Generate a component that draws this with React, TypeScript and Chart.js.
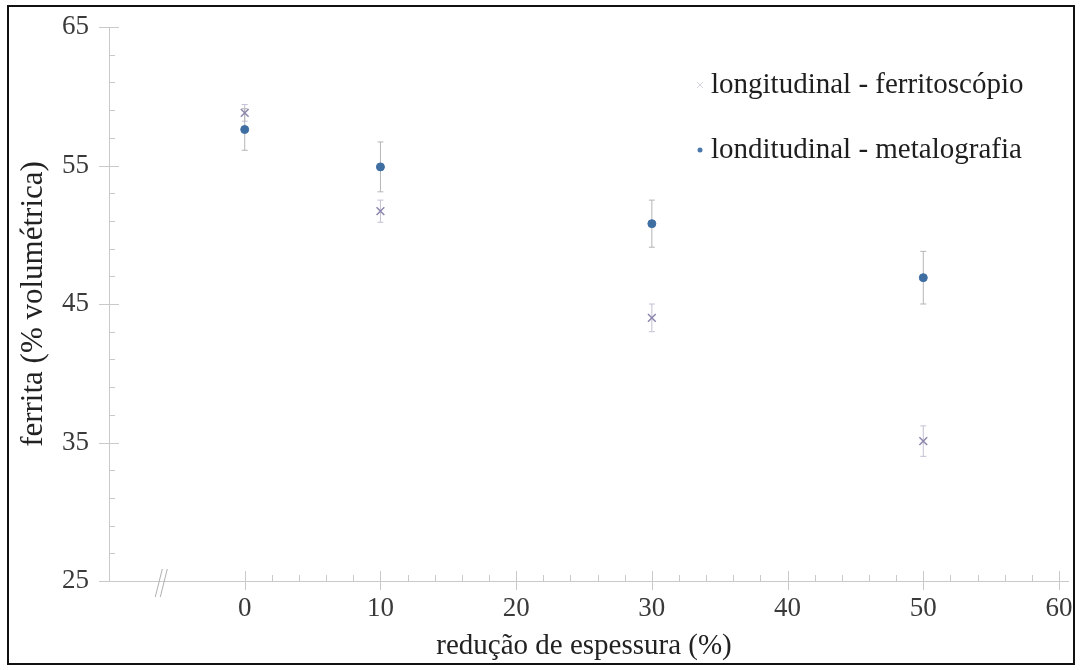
import React, { useEffect, useRef } from "react";
import { Chart, registerables } from "chart.js";

Chart.register(...registerables);

const reductions = [0, 10, 30, 50];
const ferritoscopio = [58.8, 51.7, 44.0, 35.1];
const ferritoscopioErr = [0.6, 0.8, 1.0, 1.1];
const metalografia = [57.6, 54.9, 50.8, 46.9];
const metalografiaErr = [1.5, 1.8, 1.7, 1.9];
const seriesLabels = ["longitudinal - ferritoscópio", "londitudinal - metalografia"];
const xTicks = [0, 10, 20, 30, 40, 50, 60];
const yTicks = [25, 35, 45, 55, 65];

const FONT = "'Liberation Serif', 'Times New Roman', 'DejaVu Serif', serif";
const AXIS_COLOR = "#c9c9c9";

const errorBarPlugin = {
  id: "errorBars",
  beforeDatasetsDraw(chart: any) {
    const ctx = chart.ctx;
    const xs = chart.scales.x;
    const ys = chart.scales.y;
    const errs = [ferritoscopioErr, metalografiaErr];
    chart.data.datasets.forEach((ds: any, di: number) => {
      ctx.save();
      ctx.strokeStyle = di === 0 ? "#c4c0d4" : "#b5b5b5";
      ctx.lineWidth = 1;
      ds.data.forEach((p: any, i: number) => {
        const px = xs.getPixelForValue(p.x);
        const top = ys.getPixelForValue(p.y + errs[di][i]);
        const bot = ys.getPixelForValue(p.y - errs[di][i]);
        ctx.beginPath();
        ctx.moveTo(px, top);
        ctx.lineTo(px, bot);
        ctx.moveTo(px - 3, top);
        ctx.lineTo(px + 3, top);
        ctx.moveTo(px - 3, bot);
        ctx.lineTo(px + 3, bot);
        ctx.stroke();
      });
      ctx.restore();
    });
  },
};

const axesPlugin = {
  id: "customAxes",
  beforeDatasetsDraw(chart: any) {
    const ctx = chart.ctx;
    const xs = chart.scales.x;
    const ys = chart.scales.y;
    const x0 = xs.getPixelForValue(xs.min);
    const x1 = xs.getPixelForValue(xs.max);
    const y0 = ys.getPixelForValue(ys.min);
    const y1 = ys.getPixelForValue(ys.max);
    ctx.save();
    ctx.strokeStyle = AXIS_COLOR;
    ctx.lineWidth = 1;
    ctx.beginPath();
    ctx.moveTo(x0 + 0.5, y1);
    ctx.lineTo(x0 + 0.5, y0 + 1);
    ctx.moveTo(x0, y0 + 0.5);
    ctx.lineTo(x1 + 10, y0 + 0.5);
    for (let v = ys.min; v <= ys.max + 0.001; v += 2) {
      const py = Math.round(ys.getPixelForValue(v)) + 0.5;
      const major = Math.abs((v - 25) % 10) < 0.001;
      ctx.moveTo(major ? x0 - 10 : x0, py);
      ctx.lineTo(x0 + (major ? 10 : 6), py);
    }
    for (let v = 0; v <= xs.max + 0.001; v += 2) {
      const px = Math.round(xs.getPixelForValue(v)) + 0.5;
      const major = Math.abs(v % 10) < 0.001;
      ctx.moveTo(px, major ? y0 + 9 : y0);
      ctx.lineTo(px, y0 - (major ? 10 : 6));
    }
    ctx.stroke();
    const bx = xs.getPixelForValue(-6);
    ctx.strokeStyle = "#b0b0b0";
    ctx.beginPath();
    ctx.moveTo(bx - 8, y0 + 16);
    ctx.lineTo(bx - 1, y0 - 12);
    ctx.moveTo(bx - 3, y0 + 16);
    ctx.lineTo(bx + 4, y0 - 12);
    ctx.stroke();
    ctx.restore();
  },
};

const legendPlugin = {
  id: "customLegend",
  afterDatasetsDraw(chart: any) {
    const ctx = chart.ctx;
    const area = chart.chartArea;
    const lx = area.left + 591;
    const rows = [area.top + 58, area.top + 123];
    ctx.save();
    ctx.font = `29px ${FONT}`;
    ctx.textBaseline = "middle";
    ctx.textAlign = "left";
    chart.data.datasets.forEach((ds: any, i: number) => {
      const y = rows[i];
      if (i === 0) {
        ctx.strokeStyle = "#d8d6e2";
        ctx.lineWidth = 1;
        ctx.beginPath();
        ctx.moveTo(lx - 3, y - 3);
        ctx.lineTo(lx + 3, y + 3);
        ctx.moveTo(lx - 3, y + 3);
        ctx.lineTo(lx + 3, y - 3);
        ctx.stroke();
      } else {
        ctx.fillStyle = "#4a78ad";
        ctx.beginPath();
        ctx.arc(lx, y, 2.5, 0, Math.PI * 2);
        ctx.fill();
      }
      ctx.fillStyle = "#1e1e1e";
      ctx.fillText(ds.label, lx + 11, y);
    });
    ctx.restore();
  },
};

export default function App() {
  const canvasRef = useRef<HTMLCanvasElement | null>(null);

  useEffect(() => {
    document.body.style.margin = "0";
    const canvas = canvasRef.current;
    if (!canvas) return;
    const chart = new Chart(canvas, {
      type: "scatter",
      data: {
        datasets: [
          {
            label: seriesLabels[0],
            data: reductions.map((x, i) => ({ x, y: ferritoscopio[i] })),
            pointStyle: "crossRot",
            pointRadius: 5.5,
            pointBorderWidth: 1.5,
            borderColor: "#8d86ad",
            backgroundColor: "#8d86ad",
          },
          {
            label: seriesLabels[1],
            data: reductions.map((x, i) => ({ x, y: metalografia[i] })),
            pointStyle: "circle",
            pointRadius: 4,
            pointBorderWidth: 1,
            borderColor: "#3f6ea3",
            backgroundColor: "#3f6ea3",
          },
        ],
      },
      options: {
        animation: false,
        responsive: false,
        devicePixelRatio: 1,
        layout: { padding: { top: 27, right: 21, left: 0, bottom: 0 } },
        plugins: {
          legend: { display: false },
          tooltip: { enabled: false },
        },
        scales: {
          x: {
            type: "linear",
            min: -10,
            max: 60,
            afterFit: (s: any) => {
              s.height = 89;
              s.paddingLeft = 0;
              s.paddingRight = 0;
            },
            afterBuildTicks: (s: any) => {
              s.ticks = xTicks.map((v) => ({ value: v }));
            },
            grid: { display: false, drawTicks: false },
            border: { display: false },
            ticks: {
              padding: 12,
              color: "#3a3a3a",
              font: { family: FONT, size: 27 },
              maxRotation: 0,
            },
            title: {
              display: true,
              text: "redução de espessura (%)",
              color: "#222",
              font: { family: FONT, size: 29 },
              padding: { top: 4, bottom: 6 },
            },
          },
          y: {
            type: "linear",
            min: 25,
            max: 65,
            afterFit: (s: any) => {
              s.width = 109;
              s.paddingTop = 0;
              s.paddingBottom = 0;
            },
            afterBuildTicks: (s: any) => {
              s.ticks = yTicks.map((v) => ({ value: v }));
            },
            grid: { display: false, drawTicks: false },
            border: { display: false },
            ticks: {
              padding: 20,
              color: "#3a3a3a",
              font: { family: FONT, size: 27 },
            },
            title: {
              display: true,
              text: "ferrita (% volumétrica)",
              color: "#222",
              font: { family: FONT, size: 31 },
              padding: { top: 15, bottom: 0 },
            },
          },
        },
      },
      plugins: [axesPlugin, errorBarPlugin, legendPlugin],
    } as any);
    return () => chart.destroy();
  }, []);

  return (
    <div style={{ position: "relative", width: 1080, height: 670, background: "#fff" }}>
      <canvas ref={canvasRef} width={1080} height={670} style={{ display: "block" }} />
      <div
        style={{
          position: "absolute",
          left: 7,
          top: 5,
          width: 1068,
          height: 660,
          boxSizing: "border-box",
          border: "2px solid #111",
          pointerEvents: "none",
        }}
      />
    </div>
  );
}
